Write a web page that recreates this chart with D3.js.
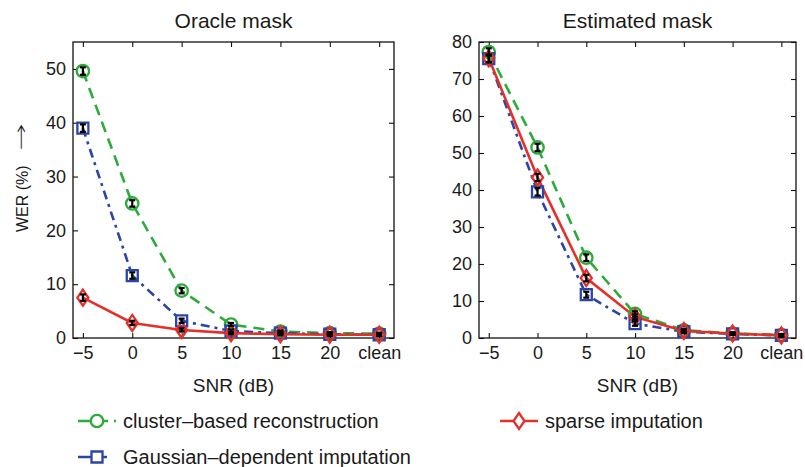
<!DOCTYPE html>
<html><head><meta charset="utf-8">
<script src="https://cdn.jsdelivr.net/npm/d3@7"></script>
<style>
body{margin:0;background:#fff}
text{font-family:"Liberation Sans",Arial,Helvetica,sans-serif;fill:#1a1a1a}
</style>
</head><body>
<svg id="c" width="805" height="467"></svg>
<script>
// ---- data ----
const categories = ["\u22125","0","5","10","15","20","clean"];
const leftYTicks = [0,10,20,30,40,50];
const rightYTicks = [0,10,20,30,40,50,60,70,80];
const seriesNames = ["cluster\u2013based reconstruction","Gaussian\u2013dependent imputation","sparse imputation"];
const oracleCluster = [49.6,25.0,8.8,2.5,1.2,0.9,0.8];
const oracleGauss   = [39.0,11.6,3.2,1.3,0.9,0.7,0.6];
const oracleSparse  = [7.5,2.8,1.5,0.9,0.7,0.6,0.6];
const oracleClusterErr = [0.7,0.6,0.5,0.3,0.2,0.2,0.2];
const oracleGaussErr   = [0.7,0.6,0.4,0.3,0.2,0.2,0.2];
const oracleSparseErr  = [0.6,0.4,0.3,0.2,0.2,0.2,0.2];
const estCluster = [77.3,51.5,21.7,6.5,2.1,1.2,0.8];
const estGauss   = [75.5,39.5,11.7,3.9,1.7,1.1,0.7];
const estSparse  = [75.6,43.4,16.2,5.7,1.9,1.2,0.7];
const estClusterErr = [1.0,1.0,0.9,0.7,0.4,0.3,0.3];
const estGaussErr   = [1.0,1.0,0.8,0.6,0.4,0.3,0.3];
const estSparseErr  = [1.0,1.0,0.9,0.7,0.4,0.3,0.3];

const colors = {cluster:"#2eaa3a", gauss:"#2b45a6", sparse:"#e5302a"};
const svg = d3.select("#c");

function markerPath(type){
  if(type==="circle") return d3.symbol(d3.symbolCircle, Math.PI*6.2*6.2)();
  if(type==="square") return "M-5.5,-5.5H5.5V5.5H-5.5Z";
  return "M0,-8L5.5,0L0,8L-5.5,0Z";
}

function panel(cfg){
  const {x0,x1,y0,y1,ymax,yticks,title,series} = cfg;
  const x = d3.scaleLinear().domain([-0.2,6.3]).range([x0,x1]);
  const y = d3.scaleLinear().domain([0,ymax]).range([y1,y0]);
  const g = svg.append("g");
  g.append("rect").attr("x",x0).attr("y",y0).attr("width",x1-x0).attr("height",y1-y0)
    .attr("fill","none").attr("stroke","#111").attr("stroke-width",1.3);
  const idx = d3.range(categories.length);
  const bx = g.append("g").attr("transform",`translate(0,${y1})`)
    .call(d3.axisBottom(x).tickValues(idx).tickFormat(i=>categories[i]).tickSizeInner(-5).tickSizeOuter(0).tickPadding(8));
  const tx = g.append("g").attr("transform",`translate(0,${y0})`)
    .call(d3.axisTop(x).tickValues(idx).tickFormat("").tickSizeInner(-5).tickSizeOuter(0));
  const ly = g.append("g").attr("transform",`translate(${x0},0)`)
    .call(d3.axisLeft(y).tickValues(yticks).tickFormat(d3.format("d")).tickSizeInner(-5).tickSizeOuter(0).tickPadding(7));
  const ry = g.append("g").attr("transform",`translate(${x1},0)`)
    .call(d3.axisRight(y).tickValues(yticks).tickFormat("").tickSizeInner(-5).tickSizeOuter(0));
  [bx,tx,ly,ry].forEach(a=>{a.select(".domain").remove();a.selectAll("line").attr("stroke","#111").attr("stroke-width",1.1);});
  bx.selectAll("text").style("font-size","18px").attr("fill","#1a1a1a");
  ly.selectAll("text").style("font-size","18px").attr("fill","#1a1a1a");
  g.append("text").attr("x",(x0+x1)/2).attr("y",28).attr("text-anchor","middle").style("font-size","21px").text(title);
  g.append("text").attr("x",(x0+x1)/2).attr("y",392).attr("text-anchor","middle").style("font-size","19px").text("SNR (dB)");

  const line = d3.line().x((d,i)=>x(i)).y(d=>y(d));
  series.forEach(s=>{
    g.append("path").datum(s.values).attr("d",line).attr("fill","none")
      .attr("stroke",s.color).attr("stroke-width",2.6).attr("stroke-dasharray",s.dash||null);
  });
  series.forEach(s=>{
    g.selectAll(null).data(s.values).enter().append("path")
      .attr("d",markerPath(s.marker)).attr("transform",(d,i)=>`translate(${x(i)},${y(d)})`)
      .attr("fill","none").attr("stroke",s.color).attr("stroke-width",2.3);
  });
  series.forEach(s=>{
    s.values.forEach((v,i)=>{
      const e=s.err[i], cx=x(i);
      const eb=g.append("g").attr("stroke","#000").attr("stroke-width",2.2);
      eb.append("line").attr("x1",cx).attr("x2",cx).attr("y1",y(v-e)).attr("y2",y(v+e));
      eb.append("line").attr("x1",cx-3).attr("x2",cx+3).attr("y1",y(v-e)).attr("y2",y(v-e));
      eb.append("line").attr("x1",cx-3).attr("x2",cx+3).attr("y1",y(v+e)).attr("y2",y(v+e));
    });
  });
}

panel({x0:73,x1:394,y0:42,y1:338,ymax:55,yticks:leftYTicks,title:"Oracle mask",series:[
  {values:oracleCluster,err:oracleClusterErr,color:colors.cluster,dash:"11,7",marker:"circle"},
  {values:oracleGauss,err:oracleGaussErr,color:colors.gauss,dash:"9,5,3,5",marker:"square"},
  {values:oracleSparse,err:oracleSparseErr,color:colors.sparse,marker:"diamond"}]});
panel({x0:479,x1:796,y0:42,y1:338,ymax:80,yticks:rightYTicks,title:"Estimated mask",series:[
  {values:estCluster,err:estClusterErr,color:colors.cluster,dash:"11,7",marker:"circle"},
  {values:estGauss,err:estGaussErr,color:colors.gauss,dash:"9,5,3,5",marker:"square"},
  {values:estSparse,err:estSparseErr,color:colors.sparse,marker:"diamond"}]});

// y label
svg.append("text").attr("transform","translate(28,232) rotate(-90)").attr("text-anchor","start")
  .style("font-size","16px").text("WER (%)");
svg.append("text").attr("transform","translate(27,137) rotate(-90) scale(1.7,1)").attr("text-anchor","middle")
  .style("font-family","'DejaVu Sans',sans-serif").style("font-size","19px").style("font-weight","300").text("\u2192");

// legend
const legend = [
  {name:seriesNames[0],color:colors.cluster,marker:"circle",x:78,y:421,dash:"12,6"},
  {name:seriesNames[2],color:colors.sparse,marker:"diamond",x:500,y:421,dash:null},
  {name:seriesNames[1],color:colors.gauss,marker:"square",x:78,y:457,dash:"14,9,6,9"}
];
legend.forEach(l=>{
  svg.append("line").attr("x1",l.x).attr("x2",l.x+38).attr("y1",l.y).attr("y2",l.y)
    .attr("stroke",l.color).attr("stroke-width",2.6).attr("stroke-dasharray",l.dash);
  svg.append("path").attr("d",markerPath(l.marker)).attr("transform",`translate(${l.x+19},${l.y})`)
    .attr("fill","#fff").attr("stroke",l.color).attr("stroke-width",2.3);
  svg.append("text").attr("x",l.x+45).attr("y",l.y+7).style("font-size","20px").text(l.name);
});
</script>
</body></html>
